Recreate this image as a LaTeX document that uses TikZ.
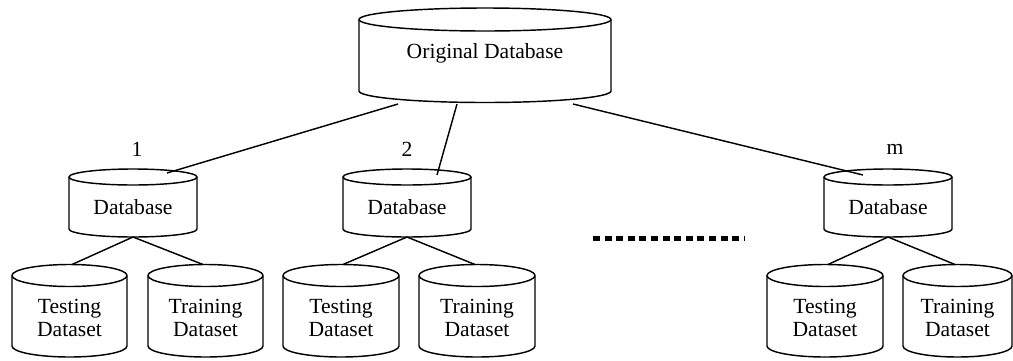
\documentclass[tikz,border=0pt]{standalone}
\usepackage{fontspec}
\setmainfont{Liberation Serif}
% #1 cx, #2 top ellipse cy, #3 rx, #4 ry, #5 bottom ellipse cy
\newcommand\drawcyl[5]{%
  \draw[cylline] ({#1-#3},#2) -- ({#1-#3},#5)
     arc[start angle=180, end angle=0, x radius=#3, y radius=#4] -- ({#1+#3},#2);
  \draw[cylline] (#1,#2) ellipse[x radius=#3, y radius=#4];
}
\begin{document}
\begin{tikzpicture}[x=0.5pt,y=-0.5pt,
  cylline/.style={line width=0.72pt, line join=round},
  conn/.style={line width=0.72pt},
  txt/.style={font=\fontsize{10.8}{11.6}\selectfont, inner sep=0pt, align=center},
  lbl/.style={font=\fontsize{10.8}{11.6}\selectfont, inner sep=0pt}]
\useasboundingbox (0,0) rectangle (1013,360);

% Original database
\drawcyl{485}{19.5}{126}{11.5}{91}
\node[txt] (orig) at (485,53) {Original Database};

% middle databases
\drawcyl{133}{177}{64}{8}{229}
\node[txt] (db1) at (133,207) {Database};
\drawcyl{407}{177}{64}{8}{229}
\node[txt] (db2) at (407,207) {Database};
\drawcyl{888}{177}{64}{8}{229}
\node[txt] (dbm) at (888,207) {Database};

% labels
\node[lbl] (l1) at (137,149) {1};
\node[lbl] (l2) at (407,149) {2};
\node[lbl] (lm) at (895,149) {m};

% leaves
\drawcyl{69.5}{275.5}{57.5}{11}{346}
\node[txt] (t1) at (69.5,318) {Testing\\Dataset};
\drawcyl{205.5}{275.5}{57.5}{11}{346}
\node[txt] (r1) at (205.5,318) {Training\\Dataset};
\drawcyl{341}{275.5}{58}{11}{346}
\node[txt] (t2) at (341,318) {Testing\\Dataset};
\drawcyl{477}{275.5}{58}{11}{346}
\node[txt] (r2) at (477,318) {Training\\Dataset};
\drawcyl{825}{275.5}{58}{11}{346}
\node[txt] (tm) at (825,318) {Testing\\Dataset};
\drawcyl{957.5}{275.5}{54.5}{11}{346}
\node[txt] (rm) at (957.5,318) {Training\\Dataset};

% connector end points
\coordinate (o1) at (398,104);
\coordinate (o2) at (457,104);
\coordinate (o3) at (573,104);
\coordinate (d1in) at (167,173);
\coordinate (d2in) at (437,175);
\coordinate (dmin) at (863,175);
\coordinate (d1b) at (133,237);
\coordinate (d2b) at (407,237);
\coordinate (dmb) at (888,237);
\coordinate (t1t) at (72,264.5);
\coordinate (r1t) at (203,264.5);
\coordinate (t2t) at (343,264.5);
\coordinate (r2t) at (475,264.5);
\coordinate (tmt) at (828,264.5);
\coordinate (rmt) at (955,264.5);

\draw[conn] (o1) -- (d1in);
\draw[conn] (o2) -- (d2in);
\draw[conn] (o3) -- (dmin);
\draw[conn] (d1b) -- (t1t);
\draw[conn] (d1b) -- (r1t);
\draw[conn] (d2b) -- (t2t);
\draw[conn] (d2b) -- (r2t);
\draw[conn] (dmb) -- (tmt);
\draw[conn] (dmb) -- (rmt);

% ellipsis dots
\coordinate (dotsA) at (593,238);
\coordinate (dotsB) at (745,238);
\draw[line width=2.5pt, dash pattern=on 3.5pt off 2.3pt] (dotsA) -- (dotsB);
\end{tikzpicture}
\end{document}
